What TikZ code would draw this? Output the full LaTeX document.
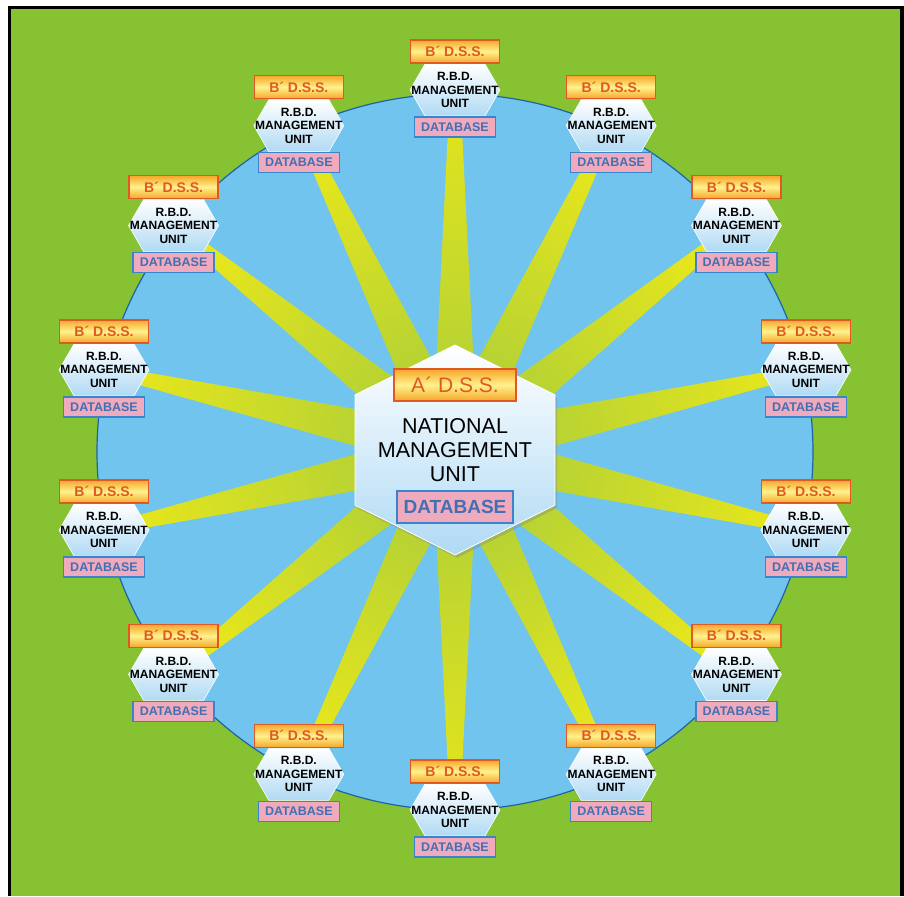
\documentclass[tikz,border=0pt]{standalone}
\usepackage{fontspec}
\setmainfont{Liberation Sans}
\usetikzlibrary{shapes.symbols, positioning, calc, shadows}

\definecolor{fieldgreen}{RGB}{134,194,50}
\definecolor{basinblue}{RGB}{112,196,238}
\definecolor{rimblue}{RGB}{30,100,165}
\definecolor{rayyellow}{RGB}{230,230,28}
\definecolor{raygreen}{RGB}{170,205,58}
\definecolor{hexblue}{RGB}{176,218,244}
\definecolor{dssorange}{RGB}{246,166,42}
\definecolor{dssyellow}{RGB}{255,242,140}
\definecolor{dssred}{RGB}{226,88,36}
\definecolor{dbpink}{RGB}{240,170,190}
\definecolor{dbblue}{RGB}{58,132,204}
\definecolor{dbtext}{RGB}{66,112,178}

\tikzset{
    unithex/.style={signal, signal to=east and west, signal pointer angle=120,
        minimum width=90pt, minimum height=52pt, inner sep=0pt,
        top color=white, bottom color=hexblue, draw=white, line width=0.6pt},
    unittext/.style={align=center, inner sep=0pt,
        font=\bfseries\fontsize{12}{13.5}\selectfont},
    nathex/.style={signal, signal to=north and south, signal pointer angle=127,
        minimum width=200pt, minimum height=187pt, inner sep=0pt,
        top color=white, bottom color=hexblue, draw=white, line width=0.8pt,
        drop shadow={opacity=0.35, shadow xshift=2pt, shadow yshift=-3pt},
        align=center, text=black, font=\fontsize{21.5}{24}\selectfont},
    dssbox/.style={draw=dssred, line width=1.5pt,
        top color=dssorange, bottom color=dssorange, middle color=dssyellow,
        text=dssred, inner sep=0pt, minimum width=89pt, minimum height=23pt,
        font=\bfseries\fontsize{14}{14}\selectfont},
    dbbox/.style={draw=dbblue, line width=1.3pt, fill=dbpink, text=dbtext,
        inner sep=0pt, minimum width=81pt, minimum height=20pt,
        font=\bfseries\fontsize{12.5}{12.5}\selectfont}
}

\begin{document}
\begin{tikzpicture}[x=1pt, y=-1pt]
    \useasboundingbox (0,0) rectangle (904,896);

    % Frame and green field
    \fill[white] (0,0) rectangle (904,896);
    \fill[black] (8,6) rectangle (904,896);
    \fill[fieldgreen] (11,9) rectangle (900,896);

    % Blue basin
    \draw[rimblue, line width=1.2pt, fill=basinblue] (455,452) circle (358pt);

    % Centre of the basin and the places of the 14 units
    \coordinate (c) at (455,450);
    \foreach \i in {0,...,13} {
        \pgfmathsetmacro\ang{90-\i*360/14}
        \coordinate (p\i) at ($(c)+(\ang:360pt)$);
    }

    % Rays from the national unit out to every unit
    \foreach \i in {0,...,13} {
        \pgfmathsetmacro\sa{-\i*360/14}
        \shade[top color=rayyellow, bottom color=raygreen, shading angle=\sa]
            ($(c)!23pt!90:(p\i)$) -- ($(p\i)!5pt!-90:(c)$)
            -- ($(p\i)!5pt!90:(c)$) -- ($(c)!23pt!-90:(p\i)$) -- cycle;
    }

    % National management unit
    \node[nathex] (nmu) at (c) {NATIONAL\\MANAGEMENT\\UNIT};
    \node[dssbox, minimum width=122pt, minimum height=32pt,
        font=\fontsize{21}{21}\selectfont] (ads) at ([yshift=65pt]nmu.center) {A´ D.S.S.};
    \node[dbbox, minimum width=116pt, minimum height=32pt,
        font=\bfseries\fontsize{19}{19}\selectfont] (ndb) at ([yshift=-57pt]nmu.center) {DATABASE};

    % R.B.D. management units round the basin
    \foreach \i in {0,...,13} {
        \node[unithex] (s\i) at (p\i) {};
        \node[unittext] (t\i) at (s\i) {R.B.D.\\MANAGEMENT\\UNIT};
        \node[dssbox, above=0pt of s\i] (b\i) {B´ D.S.S.};
        \node[dbbox, below=0pt of s\i] (d\i) {DATABASE};
    }
\end{tikzpicture}
\end{document}
